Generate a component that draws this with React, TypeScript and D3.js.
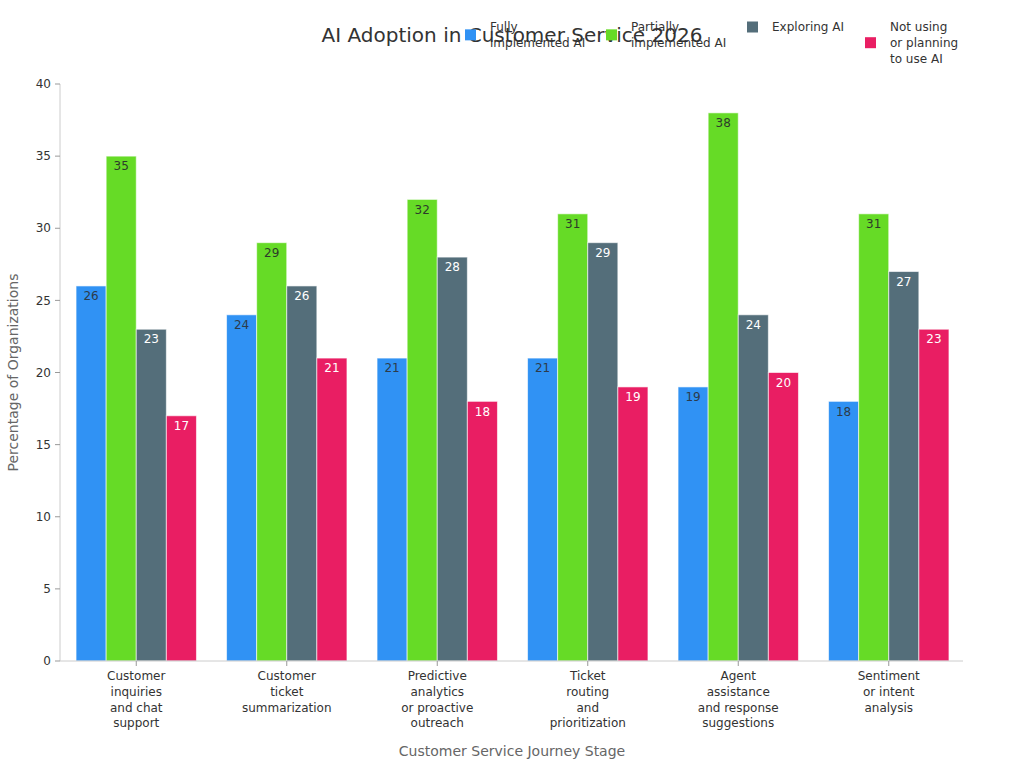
import React from "react";
import * as d3 from "d3";

const categories = [
  ["Customer", "inquiries", "and chat", "support"],
  ["Customer", "ticket", "summarization"],
  ["Predictive", "analytics", "or proactive", "outreach"],
  ["Ticket", "routing", "and", "prioritization"],
  ["Agent", "assistance", "and response", "suggestions"],
  ["Sentiment", "or intent", "analysis"],
];
const seriesNames = [
  ["Fully", "implemented AI"],
  ["Partially", "implemented AI"],
  ["Exploring AI"],
  ["Not using", "or planning", "to use AI"],
];
const fully = [26, 24, 21, 21, 19, 18];
const partially = [35, 29, 32, 31, 38, 31];
const exploring = [23, 26, 28, 29, 24, 27];
const notUsing = [17, 21, 18, 19, 20, 23];
const yTicks = [0, 5, 10, 15, 20, 25, 30, 35, 40];

const series = [fully, partially, exploring, notUsing];
const colors = ["#3092F4", "#66DB26", "#546E7A", "#E91E63"];
const labelColors = ["#2d3b4a", "#2d3b2a", "#ffffff", "#ffffff"];
const legendTextX = [490, 631, 772, 890];

const W = 1024, H = 768;
const M = { left: 60, right: 963, top: 84, bottom: 661 };
const FONT = "DejaVu Sans, sans-serif";

export default function App() {
  const idx = categories.map((_, i) => i);
  const x = d3.scaleBand<number>().domain(idx).range([M.left + 1, M.right + 1]).paddingInner(0.2).paddingOuter(0.1);
  const xs = d3.scaleBand<number>().domain([0, 1, 2, 3]).range([0, x.bandwidth()]);
  const y = d3.scaleLinear().domain([0, 40]).range([M.bottom, M.top]);

  return (
    <svg width={W} height={H} style={{ position: "absolute", left: 0, top: 0, fontFamily: FONT }}>
      <rect width={W} height={H} fill="#fff" />
      {/* axes */}
      <line x1={M.left} x2={M.left} y1={M.top} y2={M.bottom} stroke="#ccc" />
      {yTicks.map((t) => (
        <g key={t}>
          <line x1={M.left - 5} x2={M.left} y1={y(t)} y2={y(t)} stroke="#999" />
          <text x={M.left - 9} y={y(t)} dy="0.35em" textAnchor="end" fontSize={12} fill="#333">{t}</text>
        </g>
      ))}
      {/* bars */}
      {series.map((s, si) =>
        s.map((v, ci) => {
          const bx = (x(ci) as number) + (xs(si) as number);
          return (
            <g key={`${si}-${ci}`}>
              <rect x={bx} y={y(v)} width={xs.bandwidth()} height={y(0) - y(v)} fill={colors[si]} stroke="#fff" strokeOpacity={0.6} strokeWidth={1} />
              <text x={bx + xs.bandwidth() / 2} y={y(v) + 10} dy="0.35em" textAnchor="middle" fontSize={12} fill={labelColors[si]}>{v}</text>
            </g>
          );
        })
      )}
      <line x1={M.left} x2={M.right} y1={M.bottom} y2={M.bottom} stroke="#ccc" />
      {categories.map((lines, ci) => {
        const cx = (x(ci) as number) + x.bandwidth() / 2;
        return (
          <g key={ci}>
            <line x1={cx} x2={cx} y1={M.bottom} y2={M.bottom + 5} stroke="#999" />
            {lines.map((l, li) => (
              <text key={li} x={cx} y={676 + li * 15.7} dy="0.35em" textAnchor="middle" fontSize={12} fill="#333">{l}</text>
            ))}
          </g>
        );
      })}
      {/* axis titles */}
      <text x={512} y={751} dy="0.35em" textAnchor="middle" fontSize={14} fill="#666">Customer Service Journey Stage</text>
      <text transform={`translate(13,${(M.top + M.bottom) / 2}) rotate(-90)`} dy="0.35em" textAnchor="middle" fontSize={14} fill="#666">Percentage of Organizations</text>
      {/* title */}
      <text x={512} y={35} dy="0.35em" textAnchor="middle" fontSize={20} fill="#333">AI Adoption in Customer Service 2026</text>
      {/* legend */}
      {seriesNames.map((lines, si) => {
        const tx = legendTextX[si];
        const top = 27;
        const lh = 15.7;
        const cy = top + ((lines.length - 1) * lh) / 2;
        return (
          <g key={si}>
            <rect x={tx - 25} y={cy - 5.5} width={11} height={11} fill={colors[si]} />
            {lines.map((l, li) => (
              <text key={li} x={tx} y={top + li * lh} dy="0.35em" fontSize={12} fill="#333">{l}</text>
            ))}
          </g>
        );
      })}
    </svg>
  );
}
